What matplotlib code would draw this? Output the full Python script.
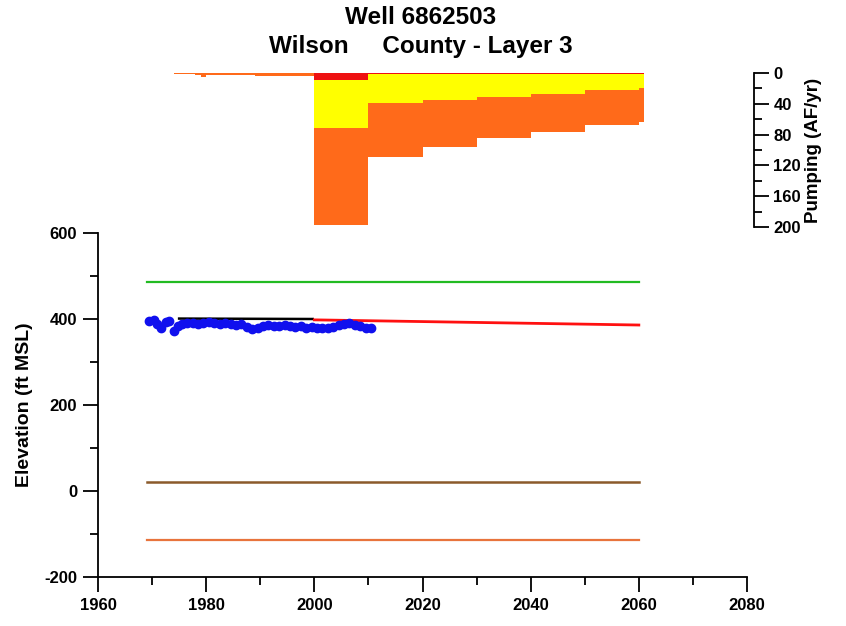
import numpy as np
import matplotlib
matplotlib.use('Agg')
import matplotlib.pyplot as plt
from matplotlib.ticker import MultipleLocator

# --- pumping (AF/yr), yearly bars -------------------------------------------
hist_years = list(range(1974, 2000))
hist_pump = [0.8, 1.2, 1.5, 1.8, 2.0, 5.5, 2.4, 2.5, 2.6, 2.7, 2.8, 2.9, 3.0,
             3.1, 3.2, 3.3, 3.4, 3.4, 3.5, 3.6, 3.7, 3.7, 3.8, 3.9, 3.9, 4.0]

pump_years = list(range(2000, 2061))
pump_red = [9.0] * 10 + [1.8] * 51
pump_yellow = ([63.0] * 10 + [37.2] * 10 + [33.2] * 10 + [29.2] * 10
               + [25.2] * 10 + [20.2] * 10 + [18.2])
pump_orange = ([126.0] * 10 + [70.0] * 10 + [61.0] * 10 + [54.0] * 10
               + [49.0] * 10 + [45.0] * 10 + [43.0])

# --- elevations (ft MSL) ----------------------------------------------------
obs_years = [1969.5, 1970.3, 1971.0, 1971.7, 1972.5, 1973.2, 1974.0, 1974.7,
             1975.5, 1976.5, 1977.5, 1978.5, 1979.5, 1980.5, 1981.5, 1982.5,
             1983.5, 1984.5, 1985.5, 1986.5, 1987.5, 1988.5, 1989.5, 1990.5,
             1991.5, 1992.5, 1993.5, 1994.5, 1995.5, 1996.5, 1997.5, 1998.5,
             1999.5, 2000.5, 2001.5, 2002.5, 2003.5, 2004.5, 2005.5, 2006.5,
             2007.5, 2008.5, 2009.5, 2010.5]
obs_heads = [396, 398, 388, 380, 392, 396, 372, 384,
             388, 390, 390, 389, 391, 392, 390, 389,
             391, 388, 386, 388, 382, 376, 378, 384,
             386, 384, 383, 386, 384, 382, 383, 380,
             381, 379, 378, 380, 382, 385, 388, 390,
             386, 383, 380, 379]

sim_hist_x = [1975, 1999.7]
sim_hist_y = [401, 400]
sim_future_x = [2000, 2060]
sim_future_y = [398, 386]

surface_x = [1969, 2060]
surface_y = [485, 485]
top_x = [1969, 2060]
top_y = [20, 20]
bottom_x = [1969, 2060]
bottom_y = [-114, -114]

W, H = 846, 626
plt.rcParams['font.family'] = 'Liberation Sans'
plt.rcParams['font.weight'] = 'bold'
plt.rcParams['axes.unicode_minus'] = False

fig = plt.figure(figsize=(W / 100, H / 100), dpi=100)

# elevation panel
ax = fig.add_axes([98 / W, 1 - 577 / H, 649 / W, 344 / H])
ax.plot(surface_x, surface_y, color='#22bb22', lw=1.6)
ax.plot(top_x, top_y, color='#8b5a2b', lw=1.8)
ax.plot(bottom_x, bottom_y, color='#e8743c', lw=1.6)
ax.plot(sim_hist_x, sim_hist_y, color='black', lw=1.8)
ax.plot(sim_future_x, sim_future_y, color='#ff1010', lw=2.0)
ax.plot(obs_years, obs_heads, 'o', color='#1010ee', ms=6, mec='#1010ee')

ax.set_xlim(1960, 2080)
ax.set_ylim(-200, 600)
ax.spines['top'].set_visible(False)
ax.spines['right'].set_visible(False)
for s in ['left', 'bottom']:
    ax.spines[s].set_linewidth(1.3)
ax.xaxis.set_major_locator(MultipleLocator(20))
ax.xaxis.set_minor_locator(MultipleLocator(10))
ax.yaxis.set_major_locator(MultipleLocator(200))
ax.yaxis.set_minor_locator(MultipleLocator(100))
ax.tick_params(which='major', direction='out', length=11, width=1.3,
               labelsize=12, pad=4)
ax.tick_params(which='minor', direction='out', length=6, width=1.3)
ax.set_ylabel('Elevation (ft MSL)', fontsize=14, fontweight='bold', labelpad=8)

# pumping panel
right_px = 754
pax = fig.add_axes([98 / W, 1 - 227 / H, (right_px - 98) / W, 154 / H])
pax.bar(hist_years, hist_pump, width=1.0, align='edge', color='#ff6a1a', lw=0)
pax.bar(pump_years, pump_red, width=1.0, align='edge', color='#ee1111', lw=0)
red_top = np.array(pump_red)
pax.bar(pump_years, pump_yellow, bottom=red_top, width=1.0, align='edge',
        color='#ffff00', lw=0)
yel_top = red_top + np.array(pump_yellow)
pax.bar(pump_years, pump_orange, bottom=yel_top, width=1.0, align='edge',
        color='#ff6a1a', lw=0)

pax.set_xlim(1960, 1960 + (right_px - 98) / (649 / 120))
pax.set_ylim(200, 0)
pax.patch.set_visible(False)
for s in ['top', 'left', 'bottom']:
    pax.spines[s].set_visible(False)
pax.spines['right'].set_linewidth(1.3)
pax.set_xticks([])
pax.yaxis.tick_right()
pax.yaxis.set_label_position('right')
pax.yaxis.set_major_locator(MultipleLocator(40))
pax.yaxis.set_minor_locator(MultipleLocator(20))
pax.tick_params(which='major', direction='out', length=11, width=1.3,
                labelsize=12, pad=3)
pax.tick_params(which='minor', direction='out', length=6, width=1.3)
pax.set_ylabel('Pumping (AF/yr)', fontsize=13.5, fontweight='bold', labelpad=3)

fig.text(421 / W, 1 - 17 / H, 'Well 6862503', ha='center', va='center',
         fontsize=17.5, fontweight='bold')
fig.text(421 / W, 1 - 46 / H, 'Wilson     County - Layer 3', ha='center',
         va='center', fontsize=17.5, fontweight='bold')

fig.savefig('out.png', dpi=100)
plt.close(fig)
